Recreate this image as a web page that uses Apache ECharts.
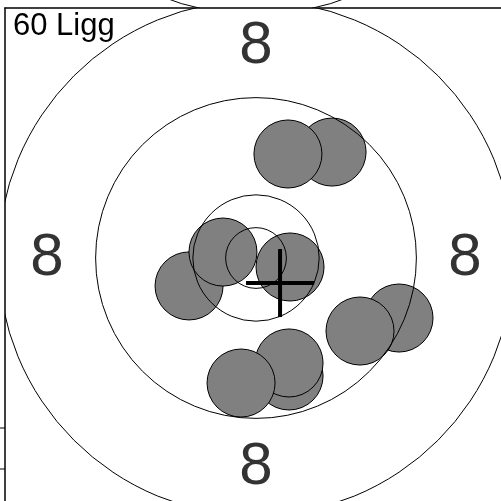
<!DOCTYPE html>
<html>
<head>
<meta charset="utf-8">
<script src="https://cdn.jsdelivr.net/npm/echarts@6/dist/echarts.min.js"></script>
<style>
  * { margin: 0; padding: 0; }
  html, body { background: #fff; }
</style>
</head>
<body>
<!-- target panel, values in mm from the centre -->
<div id="main" style="width: 501px; height: 501px;"></div>
<script>
  var title = '60 Ligg';
  var ringRadii = [2.5, 5.2, 13.2, 21.2];
  var ringNumbers = ['8', '8', '8', '8'];
  var ringNumberX = [0, -17.2, 17.2, 0];
  var ringNumberY = [17.4, 0, 0, -17.2];
  // shot holes, drawn back to front
  var shotX = [6.26, 2.63, -5.51, -2.72, 2.80, 11.77, 8.56, 2.72, 2.72, -1.23];
  var shotY = [8.72, 8.56, -2.30, 0.49, -0.74, -4.94, -6.01, -9.71, -8.64, -10.29];
  var shotRadius = 2.8;
  var meanX = 1.98;
  var meanY = -2.06;
  var crossHalf = 2.8;
  var panelStep = 41.23; // distance to the next target panel above

  // layout
  var pxPerMm = 12.15;
  var cx = 256, cy = 258;
  var gl = 5, gt = 8, gw = 500, gh = 500;
  var xMin = (gl - cx) / pxPerMm, xMax = xMin + gw / pxPerMm;
  var yMax = (cy - gt) / pxPerMm, yMin = yMax - gh / pxPerMm;

  var chart = echarts.init(document.getElementById('main'));

  function ring(params, api) {
    var c = api.coord([api.value(0), api.value(1)]);
    var r = api.size([api.value(2), 0])[0];
    return {
      type: 'circle',
      shape: { cx: c[0], cy: c[1], r: r },
      style: { fill: 'none', stroke: '#000', lineWidth: 1 }
    };
  }

  function shot(params, api) {
    var c = api.coord([api.value(0), api.value(1)]);
    var r = api.size([shotRadius, 0])[0];
    return {
      type: 'circle',
      shape: { cx: c[0], cy: c[1], r: r },
      style: { fill: '#808080', stroke: '#000', lineWidth: 1 }
    };
  }

  function cross(params, api) {
    var x = api.value(0), y = api.value(1);
    var a = api.coord([x - crossHalf, y]), b = api.coord([x + crossHalf, y]);
    var c = api.coord([x, y + crossHalf]), d = api.coord([x, y - crossHalf]);
    var st = { stroke: '#000', lineWidth: 4 };
    return {
      type: 'group',
      children: [
        { type: 'line', shape: { x1: a[0], y1: a[1], x2: b[0], y2: b[1] }, style: st },
        { type: 'line', shape: { x1: c[0], y1: c[1], x2: d[0], y2: d[1] }, style: st }
      ]
    };
  }

  var shots = shotX.map(function (x, i) { return [x, shotY[i]]; });
  var rings = ringRadii.map(function (r) { return [0, 0, r]; });
  var ringsAbove = ringRadii.map(function (r) { return [0, panelStep, r]; });
  var numbers = ringNumbers.map(function (t, i) { return { value: [ringNumberX[i], ringNumberY[i]], name: t }; });

  var hiddenAxis = {
    axisLabel: { show: false }, axisTick: { show: false }, splitLine: { show: false }
  };

  chart.setOption({
    animation: false,
    title: {
      text: title, left: 13, top: 11, padding: 0,
      textStyle: { fontFamily: 'Liberation Sans', fontSize: 31, fontWeight: 'normal', color: '#000' }
    },
    grid: [
      { left: gl, top: gt, width: gw, height: gh, outerBoundsMode: 'none', containLabel: false },
      { left: gl, top: 0, width: gw, height: gt, outerBoundsMode: 'none', containLabel: false }
    ],
    xAxis: [
      Object.assign({ type: 'value', gridIndex: 0, min: xMin, max: xMax, position: 'top',
        axisLine: { show: true, onZero: false, lineStyle: { color: '#000', width: 1.5 } } }, hiddenAxis),
      Object.assign({ type: 'value', gridIndex: 1, min: xMin, max: xMax,
        axisLine: { show: false } }, hiddenAxis)
    ],
    yAxis: [
      Object.assign({ type: 'value', gridIndex: 0, min: yMin, max: yMax, position: 'left',
        axisLine: { show: true, onZero: false, lineStyle: { color: '#000', width: 1.5 } } }, hiddenAxis),
      Object.assign({ type: 'value', gridIndex: 1, min: yMax, max: yMax + gt / pxPerMm,
        axisLine: { show: false } }, hiddenAxis)
    ],
    series: [
      { type: 'custom', xAxisIndex: 0, yAxisIndex: 0, clip: true, renderItem: shot, data: shots, z: 2 },
      { type: 'custom', xAxisIndex: 0, yAxisIndex: 0, clip: true, renderItem: ring, data: rings, z: 3 },
      { type: 'custom', xAxisIndex: 1, yAxisIndex: 1, clip: true, renderItem: ring, data: ringsAbove, z: 3 },
      { type: 'custom', xAxisIndex: 0, yAxisIndex: 0, clip: true, renderItem: cross, data: [[meanX, meanY]], z: 4 },
      {
        type: 'scatter', xAxisIndex: 0, yAxisIndex: 0, symbolSize: 0, z: 5,
        label: {
          show: true, position: 'inside', formatter: '{b}',
          fontFamily: 'Liberation Sans', fontSize: 60, color: '#000'
        },
        data: numbers
      }
    ],
    graphic: [
      { type: 'line', shape: { x1: 0, y1: 428, x2: 5, y2: 428 }, style: { stroke: '#000', lineWidth: 1 } },
      { type: 'line', shape: { x1: 0, y1: 469, x2: 5, y2: 469 }, style: { stroke: '#000', lineWidth: 1 } }
    ]
  });
</script>
</body>
</html>
